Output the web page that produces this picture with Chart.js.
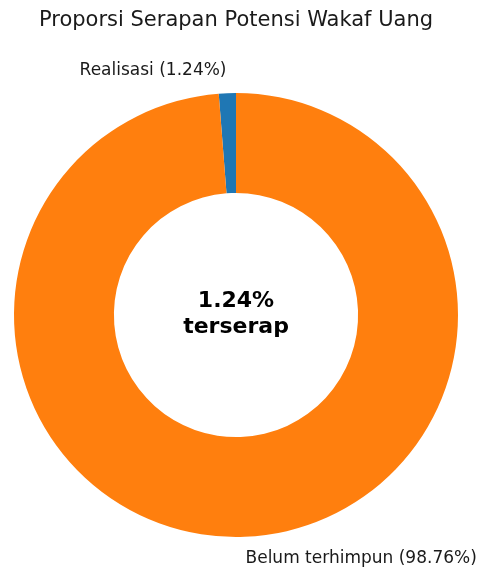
<!DOCTYPE html>
<html>
<head>
<meta charset="utf-8">
<script src="https://cdn.jsdelivr.net/npm/chart.js"></script>
<style>
  html, body { margin: 0; padding: 0; background: #ffffff; }
  #wrap { width: 480px; height: 570px; }
</style>
</head>
<body>
<div id="wrap"><canvas id="donutChart" width="480" height="570"></canvas></div>
<script>
// data
const labels = ['Realisasi', 'Belum terhimpun'];
const percents = [1.24, 98.76];
const colors = ['#1f77b4', '#ff7f0e'];
const titleText = 'Proporsi Serapan Potensi Wakaf Uang';
const centerLines = ['1.24%', 'terserap'];

const FONT = '"DejaVu Sans", sans-serif';

// slice labels outside the ring + title + centre text
const labelPlugin = {
    id: 'labelPlugin',
    afterDraw(chart) {
        const ctx = chart.ctx;
        const arcs = chart.getDatasetMeta(0).data;
        ctx.save();
        ctx.fillStyle = '#1a1a1a';
        ctx.textBaseline = 'middle';

        // title
        ctx.font = '21px ' + FONT;
        ctx.textAlign = 'center';
        ctx.fillText(titleText, 236, 21);

        // outside labels
        ctx.font = '17px ' + FONT;
        arcs.forEach((arc, i) => {
            const p = arc.getProps(['x', 'y', 'startAngle', 'endAngle', 'outerRadius'], true);
            const mid = (p.startAngle + p.endAngle) / 2;
            const r = p.outerRadius * 1.1;
            const lx = p.x + Math.cos(mid) * r;
            const ly = p.y + Math.sin(mid) * r;
            ctx.textAlign = lx < p.x ? 'right' : 'left';
            ctx.fillText(labels[i] + ' (' + percents[i].toFixed(2) + '%)', lx, ly);
        });

        // centre text
        const c = arcs[0].getProps(['x', 'y'], true);
        ctx.font = 'bold 22px ' + FONT;
        ctx.textAlign = 'center';
        ctx.fillStyle = '#000000';
        ctx.fillText(centerLines[0], c.x, c.y - 14);
        ctx.fillText(centerLines[1], c.x, c.y + 12);
        ctx.restore();
    }
};

new Chart(document.getElementById('donutChart'), {
    type: 'doughnut',
    data: {
        labels: labels,
        datasets: [{
            data: percents,
            backgroundColor: colors,
            borderWidth: 0
        }]
    },
    options: {
        responsive: false,
        animation: false,
        cutout: '55%',
        rotation: -percents[0] * 3.6,
        layout: { padding: { top: 93, left: 14, right: 22, bottom: 33 } },
        plugins: {
            legend: { display: false },
            title: { display: false },
            tooltip: { enabled: false }
        }
    },
    plugins: [labelPlugin]
});
</script>
</body>
</html>
